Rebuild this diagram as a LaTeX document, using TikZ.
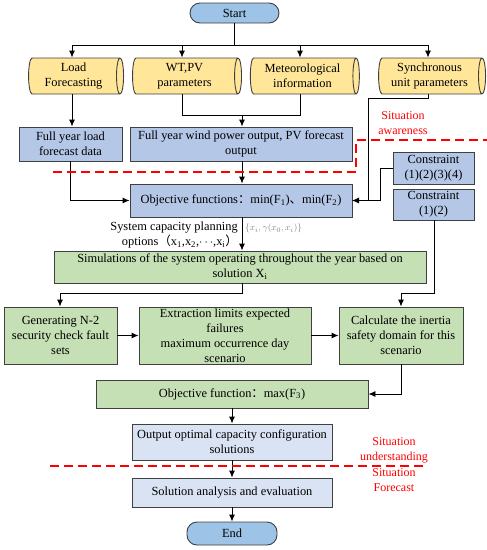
\documentclass[tikz,border=0pt]{standalone}
\usepackage{fontspec}
\setmainfont{Liberation Serif}
\newfontfamily\cjk{Noto Sans CJK SC}
\usetikzlibrary{shapes.geometric,arrows.meta}
\definecolor{termblue}{HTML}{9DC3E6}
\definecolor{cylyellow}{HTML}{FFE699}
\definecolor{boxblue}{HTML}{B4C7E7}
\definecolor{boxgreen}{HTML}{C5E0B4}
\definecolor{boxlav}{HTML}{DAE3F3}
\definecolor{edgegray}{HTML}{404040}
\tikzset{
  base/.style={draw=edgegray, line width=0.9pt, align=center, inner sep=1pt,
    font=\fontsize{12.4}{15}\selectfont},
  term/.style={base, rounded corners=10pt, fill=termblue},
  datacyl/.style={base, cylinder, shape border rotate=0, aspect=0.25, fill=cylyellow,
    minimum height=#1, minimum width=36pt},
  bbox/.style={base, fill=boxblue},
  gbox/.style={base, fill=boxgreen},
  lbox/.style={base, fill=boxlav},
  conn/.style={draw=black, line width=0.9pt},
  arr/.style={conn, -{Latex[length=7pt,width=6pt]}},
  reddash/.style={draw=red, line width=1.1pt, dash pattern=on 9pt off 5pt},
  redtxt/.style={text=red, font=\fontsize{12}{15}\selectfont, align=center},
}
\begin{document}
\begin{tikzpicture}[x=1pt,y=-1pt]
\useasboundingbox (0,0) rectangle (487,550);
% terminals
\node[term, minimum width=89pt, minimum height=20pt] (start) at (234.5,13) {Start};
\node[term, minimum width=90pt, minimum height=23pt] (end) at (232,533.5) {End};
% cylinders
\node[datacyl=95pt] (c1) at (73.5,76) {Load\\Forecasting};
\node[datacyl=109pt] (c2) at (184.5,76) {WT,PV\\parameters};
\node[datacyl=109pt] (c3) at (302.5,76) {Meteorological\\information};
\node[datacyl=107pt] (c4) at (429.5,76) {Synchronous\\unit parameters};
% blue boxes
\node[bbox, minimum width=103pt, minimum height=34pt] (ld) at (70.5,144) {Full year load\\forecast data};
\node[bbox, minimum width=222pt, minimum height=34pt] (wp) at (241,144) {Full year wind power output, PV forecast\\output};
\node[bbox, minimum width=222pt, minimum height=33pt] (obj) at (241,200.5) {Objective functions{\cjk ：}min(F\textsubscript{1}){\cjk 、}min(F\textsubscript{2})};
\node[bbox, minimum width=81pt, minimum height=32pt] (k1) at (433.5,168) {Constraint\\(1)(2)(3)(4)};
\node[bbox, minimum width=81pt, minimum height=31pt] (k2) at (433.5,204.5) {Constraint\\(1)(2)};
% green boxes
\node[gbox, minimum width=372pt, minimum height=32pt] (sim) at (240,267) {Simulations of the system operating throughout the year based on\\solution X\textsubscript{i}};
\node[gbox, minimum width=113pt, minimum height=57pt] (gen) at (60.5,335.5) {Generating N-2\\security check fault\\sets};
\node[gbox, minimum width=172pt, minimum height=57pt] (ext) at (225,335.5) {Extraction limits expected\\failures\\maximum occurrence day\\scenario};
\node[gbox, minimum width=124pt, minimum height=57pt] (calc) at (401,335.5) {Calculate the inertia\\safety domain for this\\scenario};
\node[gbox, minimum width=272pt, minimum height=28pt] (f3) at (232,394) {Objective function{\cjk ：}max(F\textsubscript{3})};
% lavender boxes
\node[lbox, minimum width=200pt, minimum height=36pt] (out) at (232,442) {Output optimal capacity configuration\\solutions};
\node[lbox, minimum width=200pt, minimum height=29pt] (sol) at (232,492.5) {Solution analysis and evaluation};
% helper coordinates
\coordinate (hub) at (234.5,45);
\coordinate (j1) at (72,45);
\coordinate (j2) at (182,45);
\coordinate (j3) at (300,45);
\coordinate (j4) at (428,45);
\coordinate (m2) at (182,115);
\coordinate (m3) at (300,115);
\coordinate (mm) at (242,115);
\coordinate (s4a) at (428,98);
\coordinate (s4b) at (368,98);
\coordinate (k1a) at (380,168);
\coordinate (objin) at (352,200.5);
\coordinate (sp) at (242,293);
\coordinate (sg) at (60,293);
\coordinate (k2b) at (434,293);
\coordinate (k2c) at (401,293);
\coordinate (cb) at (401,394);
\coordinate (c1b) at (72,94);
% connectors
\draw[conn] (start.south) -- (hub);
\draw[conn] (j1) -- (j4);
\draw[arr] (j1) -- (j1 |- c1.north);
\draw[arr] (j2) -- (j2 |- c2.north);
\draw[arr] (j3) -- (j3 |- c3.north);
\draw[arr] (j4) -- (j4 |- c4.north);
\draw[arr] (c1b |- c1.south) -- (c1b |- ld.north);
\draw[conn] (m2 |- c2.south) -- (m2) -- (m3) -- (m3 |- c3.south);
\draw[arr] (mm) -- (mm |- wp.north);
\draw[arr] (ld.south) -- (ld.south |- obj.west) -- (obj.west);
\draw[arr] (wp.south -| mm) -- (mm |- obj.north);
\draw[conn] (s4a |- c4.south) -- (s4a) -- (s4b) -- (s4b |- objin);
\draw[arr] (k1.west) -- (k1a) -- (k1a |- objin) -- (objin);
\draw[arr] (obj.south -| mm) -- (mm |- sim.north);
\draw[arr] (sim.south -| sp) -- (sp) -- (sg) -- (sg |- gen.north);
\draw[arr] (gen.east) -- (ext.west);
\draw[arr] (ext.east) -- (calc.west);
\draw[arr] (k2b |- k2.south) -- (k2b) -- (k2c) -- (k2c |- calc.north);
\draw[arr] (calc.south) -- (cb) -- (f3.east);
\draw[arr] (f3.south) -- (out.north);
\draw[arr] (out.south) -- (sol.north);
\draw[arr] (sol.south) -- (end.north);
% edge labels
\node[anchor=east, align=right, inner sep=0pt, font=\fontsize{12.4}{15}\selectfont] (lab1) at (238,235.5) {System capacity planning\\options{\cjk （}x\textsubscript{1},x\textsubscript{2},$\cdots$,x\textsubscript{i}{\cjk ）}};
\node[anchor=west, inner sep=0pt, text=gray, font=\fontsize{9.5}{11}\selectfont] (lab2) at (245,228.5) {$\{x_i,\gamma(x_0,x_i)\}$};
% red dashed separators
\draw[reddash] (53,172) -- (356,172) -- (356,140) -- (487,140);
\draw[reddash] (50,466) -- (423,466);
\node[redtxt] (sa) at (403,123) {Situation\\awareness};
\node[redtxt] (su) at (394,450.5) {Situation\\understanding};
\node[redtxt] (sf) at (394,480.5) {Situation\\Forecast};
\end{tikzpicture}
\end{document}
